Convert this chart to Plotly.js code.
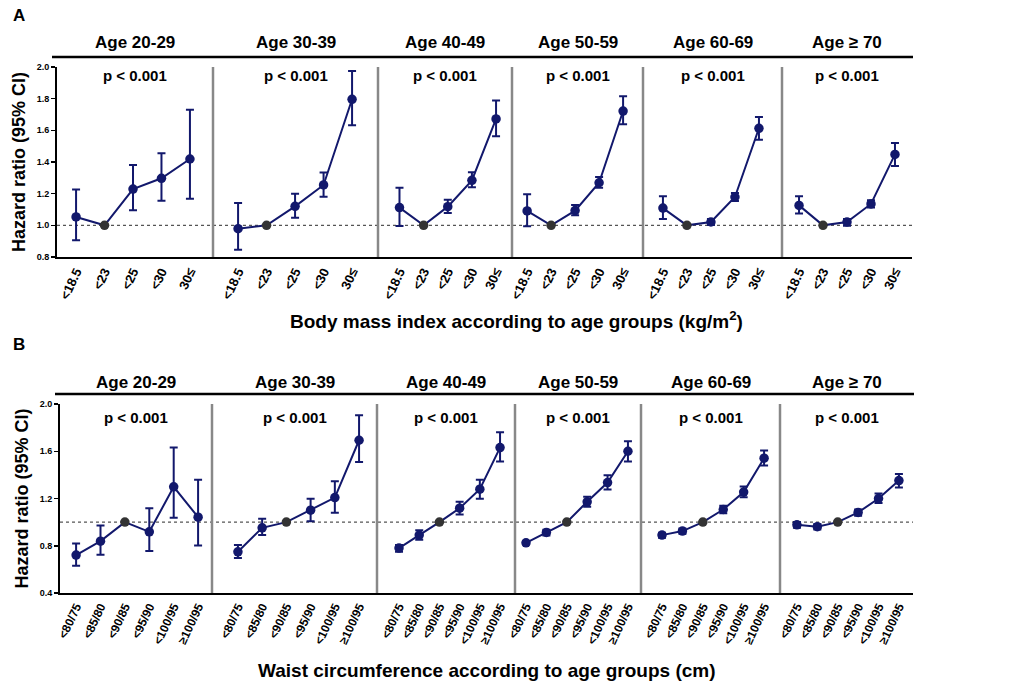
<!DOCTYPE html>
<html>
<head>
<meta charset="utf-8">
<script src="https://cdn.plot.ly/plotly-3.0.1.min.js"></script>
<style>
  body { margin: 0; background: #fff; }
  #chart { width: 1021px; height: 687px; }
</style>
</head>
<body>
<div id="chart"></div>
<script>
// Panel titles
var ageGroups = ["Age 20-29", "Age 30-39", "Age 40-49", "Age 50-59", "Age 60-69", "Age \u2265 70"];
var pLabel = "p < 0.001";

// A: body mass index categories (reference = <23)
var bmiCats = ["<18.5", "<23", "<25", "<30", "30\u2264"];
var bmiRef = 1;
var bmiHR = [
  [1.053, 1.00, 1.229, 1.297, 1.419],
  [0.979, 1.00, 1.120, 1.255, 1.796],
  [1.112, 1.00, 1.118, 1.284, 1.672],
  [1.091, 1.00, 1.093, 1.269, 1.722],
  [1.109, 1.00, 1.021, 1.179, 1.613],
  [1.126, 1.00, 1.021, 1.135, 1.448]
];
var bmiUpper = [
  [1.227, 1.00, 1.381, 1.455, 1.730],
  [1.141, 1.00, 1.200, 1.333, 1.975],
  [1.238, 1.00, 1.162, 1.335, 1.789],
  [1.196, 1.00, 1.128, 1.305, 1.815],
  [1.183, 1.00, 1.040, 1.204, 1.684],
  [1.183, 1.00, 1.040, 1.158, 1.520]
];
var bmiLower = [
  [0.905, 1.00, 1.095, 1.156, 1.168],
  [0.846, 1.00, 1.048, 1.181, 1.632],
  [0.996, 1.00, 1.078, 1.240, 1.562],
  [0.994, 1.00, 1.063, 1.238, 1.638],
  [1.040, 1.00, 1.002, 1.154, 1.541],
  [1.074, 1.00, 0.998, 1.112, 1.375]
];

// B: waist circumference categories, men/women (reference = <90/85)
var wcCats = ["<80/75", "<85/80", "<90/85", "<95/90", "<100/95", "\u2265100/95"];
var wcRef = 2;
var wcHR = [
  [0.721, 0.839, 1.00, 0.918, 1.299, 1.042],
  [0.749, 0.952, 1.00, 1.101, 1.208, 1.693],
  [0.780, 0.890, 1.00, 1.118, 1.279, 1.631],
  [0.825, 0.913, 1.00, 1.172, 1.335, 1.600],
  [0.890, 0.924, 1.00, 1.107, 1.254, 1.541],
  [0.977, 0.961, 1.00, 1.082, 1.200, 1.352]
];
var wcUpper = [
  [0.820, 0.972, 1.00, 1.118, 1.631, 1.358],
  [0.806, 1.028, 1.00, 1.197, 1.346, 1.904],
  [0.806, 0.932, 1.00, 1.172, 1.358, 1.761],
  [0.839, 0.935, 1.00, 1.214, 1.397, 1.685],
  [0.910, 0.946, 1.00, 1.138, 1.301, 1.606],
  [1.000, 0.983, 1.00, 1.107, 1.242, 1.408]
];
var wcLower = [
  [0.631, 0.724, 1.00, 0.755, 1.037, 0.803],
  [0.696, 0.890, 1.00, 1.008, 1.079, 1.510],
  [0.749, 0.851, 1.00, 1.065, 1.197, 1.513],
  [0.811, 0.887, 1.00, 1.130, 1.276, 1.513],
  [0.868, 0.901, 1.00, 1.076, 1.211, 1.479],
  [0.952, 0.938, 1.00, 1.054, 1.161, 1.293]
];

var W = 1021, H = 687;
var navy = "#12186c";
var refColor = "#333333";
var font = "Liberation Sans, Arial, sans-serif";

// panel edges in pixels
var edgesA = [57, 213, 378, 512, 643, 782, 912];
var edgesB = [60, 212, 377, 515, 641, 780, 913];
var rangesA = [[-0.67, 4.81], [-0.88, 4.91], [-0.89, 4.66], [-0.63, 4.83], [-0.83, 4.96], [-0.71, 4.71]];
var rangesB = [[-0.66, 5.57], [-1.07, 5.74], [-1.09, 5.74], [-0.54, 5.64], [-1.03, 5.78], [-0.83, 5.69]];
var yDomA = [1 - 257 / H, 1 - 67 / H];
var yDomB = [1 - 593 / H, 1 - 404 / H];

var data = [];
var layout = {
  width: W, height: H,
  margin: {l: 0, r: 0, t: 0, b: 0},
  paper_bgcolor: "#fff", plot_bgcolor: "rgba(0,0,0,0)",
  showlegend: false,
  font: {family: font, color: "#000"},
  shapes: [], annotations: []
};

function addPanel(n, cats, hr, up, lo, refIdx, edges, ranges, yname, ydom, titleY, pY, tickSize) {
  for (var i = 0; i < 6; i++) {
    var k = n + i;
    var xname = "x" + k;
    var err = [], errm = [], cols = [], xs = [];
    for (var j = 0; j < cats.length; j++) {
      xs.push(j);
      err.push(up[i][j] - hr[i][j]);
      errm.push(hr[i][j] - lo[i][j]);
      cols.push(j === refIdx ? refColor : navy);
    }
    data.push({
      type: "scatter", mode: "lines+markers",
      x: xs, y: hr[i],
      xaxis: xname, yaxis: yname,
      line: {color: navy, width: 2},
      marker: {color: cols, size: 9.5},
      error_y: {type: "data", symmetric: false, array: err, arrayminus: errm,
                color: navy, thickness: 2, width: 4},
      hoverinfo: "x+y"
    });
    layout["xaxis" + k] = {
      domain: [edges[i] / W, edges[i + 1] / W],
      anchor: yname,
      range: ranges[i],
      tickmode: "array", tickvals: xs, ticktext: cats,
      tickangle: -65,
      tickfont: {size: tickSize, family: font, weight: "bold"},
      showgrid: false, zeroline: false,
      showline: true, linecolor: "#000", linewidth: 2,
      ticks: "", fixedrange: true
    };
    var cx = (edges[i] + edges[i + 1]) / 2 / W;
    layout.annotations.push({
      xref: "paper", yref: "paper", x: cx, y: 1 - titleY / H,
      xanchor: "center", yanchor: "middle",
      text: "<b>" + ageGroups[i] + "</b>", showarrow: false,
      font: {size: 17, family: font}
    });
    layout.annotations.push({
      xref: "paper", yref: "paper", x: cx, y: 1 - pY / H,
      xanchor: "center", yanchor: "middle",
      text: "<b>" + pLabel + "</b>", showarrow: false,
      font: {size: 15, family: font}
    });
    if (i > 0) {
      layout.shapes.push({
        type: "line", xref: "paper", yref: "paper",
        x0: edges[i] / W, x1: edges[i] / W, y0: ydom[0], y1: ydom[1],
        line: {color: "#888", width: 2.5}
      });
    }
  }
  // dotted reference line at HR = 1
  layout.shapes.push({
    type: "line", xref: "paper", yref: yname,
    x0: edges[0] / W, x1: edges[6] / W, y0: 1, y1: 1,
    line: {color: "#555", width: 1.2, dash: "dot"}, layer: "below"
  });
  // header rule above panels
  layout.shapes.push({
    type: "line", xref: "paper", yref: "paper",
    x0: (edges[0] - 5) / W, x1: (edges[6] + 1) / W,
    y0: ydom[1] + 10 / H, y1: ydom[1] + 10 / H,
    line: {color: "#000", width: 2.5}
  });
}

addPanel(1, bmiCats, bmiHR, bmiUpper, bmiLower, bmiRef, edgesA, rangesA, "y", yDomA, 43, 75, 13);
addPanel(7, wcCats, wcHR, wcUpper, wcLower, wcRef, edgesB, rangesB, "y2", yDomB, 382, 417, 12);

layout.yaxis = {
  domain: yDomA, anchor: "x1", range: [0.8, 2.0],
  tickmode: "array", tickvals: [0.8, 1.0, 1.2, 1.4, 1.6, 1.8, 2.0],
  ticktext: ["0.8", "1.0", "1.2", "1.4", "1.6", "1.8", "2.0"],
  tickfont: {size: 9, family: font, weight: "bold"},
  ticks: "outside", ticklen: 4, tickwidth: 1.5, tickcolor: "#000",
  showline: true, linecolor: "#000", linewidth: 2,
  showgrid: false, zeroline: false, fixedrange: true,
  title: {text: "<b>Hazard ratio (95% CI)</b>", font: {size: 18, family: font}, standoff: 6}
};
layout.yaxis2 = {
  domain: yDomB, anchor: "x7", range: [0.4, 2.0],
  tickmode: "array", tickvals: [0.4, 0.8, 1.2, 1.6, 2.0],
  ticktext: ["0.4", "0.8", "1.2", "1.6", "2.0"],
  tickfont: {size: 9, family: font, weight: "bold"},
  ticks: "outside", ticklen: 4, tickwidth: 1.5, tickcolor: "#000",
  showline: true, linecolor: "#000", linewidth: 2,
  showgrid: false, zeroline: false, fixedrange: true,
  title: {text: "<b>Hazard ratio (95% CI)</b>", font: {size: 18, family: font}, standoff: 6}
};

// bottom titles and panel letters
layout.annotations.push({
  xref: "paper", yref: "paper", x: 516 / W, y: 1 - 320 / H,
  xanchor: "center", yanchor: "middle",
  text: "<b>Body mass index according to age groups (kg/m<sup>2</sup>)</b>",
  showarrow: false, font: {size: 19, family: font}
});
layout.annotations.push({
  xref: "paper", yref: "paper", x: 487 / W, y: 1 - 670 / H,
  xanchor: "center", yanchor: "middle",
  text: "<b>Waist circumference according to age groups (cm)</b>",
  showarrow: false, font: {size: 19, family: font}
});
layout.annotations.push({
  xref: "paper", yref: "paper", x: 11 / W, y: 1 - 15 / H, xanchor: "left",
  text: "<b>A</b>", showarrow: false, font: {size: 17, family: font}, yanchor: "middle"
});
layout.annotations.push({
  xref: "paper", yref: "paper", x: 11 / W, y: 1 - 344 / H, xanchor: "left",
  text: "<b>B</b>", showarrow: false, font: {size: 17, family: font}, yanchor: "middle"
});

Plotly.newPlot("chart", data, layout, {displayModeBar: false, staticPlot: true});
</script>
</body>
</html>
